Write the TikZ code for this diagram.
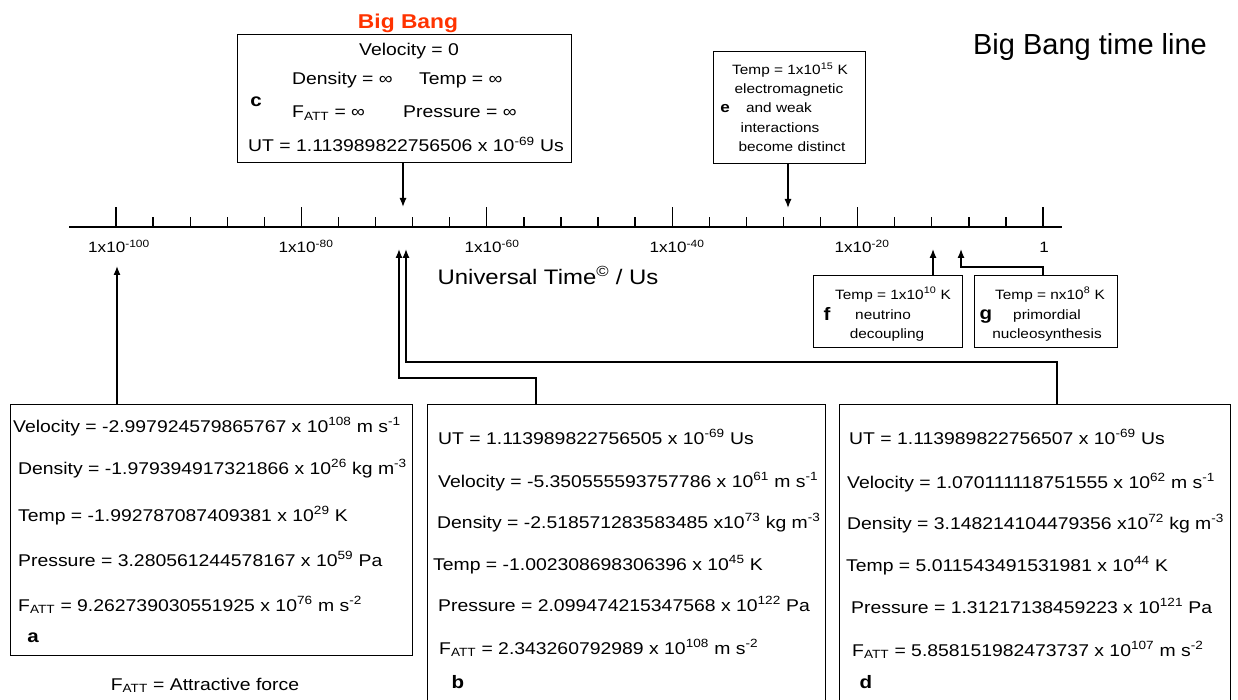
\documentclass[tikz,border=0pt]{standalone}
\usepackage{fontspec}
\setmainfont[FakeStretch=1.14]{Liberation Sans}
\newfontfamily\titlefont{Liberation Sans}
\usetikzlibrary{arrows.meta}
\newcommand\myup[1]{\textsuperscript{#1}}
\newcommand\myatt{F\textsubscript{ATT}}
\definecolor{bbred}{RGB}{255,51,0}
\begin{document}
\begin{tikzpicture}[x=1pt,y=-1pt,
  box/.style={draw, line width=1.3pt, inner sep=0pt, anchor=north west},
  arr/.style={line width=1.3pt, -{Latex[length=9pt,width=7pt]}},
  ln/.style={line width=1.3pt},
  t/.style={anchor=base west, inner sep=0pt, font=\fontsize{17}{20}\selectfont},
  tc/.style={anchor=base, inner sep=0pt, font=\fontsize{17}{20}\selectfont},
  sm/.style={anchor=base, inner sep=0pt, font=\fontsize{13.5}{15}\selectfont},
  lbl/.style={anchor=base, inner sep=0pt, font=\bfseries\fontsize{18}{20}\selectfont},
  tl/.style={anchor=base, inner sep=0pt, font=\fontsize{15}{17}\selectfont}]
\clip (0,0) rectangle (1238,700);
\fill[white] (0,0) rectangle (1238,700);

% title and big bang
\node[anchor=base, inner sep=0pt, font=\titlefont\fontsize{29}{31}\selectfont] (title) at (1090,55) {Big Bang time line};
\node[anchor=base, inner sep=0pt, text=bbred, font=\bfseries\fontsize{20}{22}\selectfont] (bb) at (408,29) {Big Bang};

% axis
\coordinate (axL) at (69,227);
\coordinate (axR) at (1062,227);
\draw[ln] (axL) -- (axR);
\foreach \k in {0,...,25} {
  \pgfmathsetmacro\xx{116+37.08*\k}
  \pgfmathtruncatemacro\mm{mod(\k,5)}
  \ifnum\mm=0
    \draw[ln] (\xx,227) -- (\xx,207);
  \else
    \draw[ln] (\xx,227) -- (\xx,217);
  \fi
}
\node[tl] (l100) at (119,253) {1x10\myup{-100}};
\node[tl] (l80) at (306,253) {1x10\myup{-80}};
\node[tl] (l60) at (492,253) {1x10\myup{-60}};
\node[tl] (l40) at (677,253) {1x10\myup{-40}};
\node[tl] (l20) at (862,253) {1x10\myup{-20}};
\node[tl] (l0) at (1044,253) {1};
\node[anchor=base, inner sep=0pt, font=\fontsize{21}{24}\selectfont] (ut) at (548,284) {Universal Time\myup{\textcopyright} / Us};

% box c
\node[box, minimum width=334pt, minimum height=128pt] (boxC) at (237,34) {};
\node[tc] (cV) at (409,56) {Velocity = 0};
\node[t] (cD) at (292,85) {Density = ∞};
\node[t] (cT) at (419,85) {Temp = ∞};
\node[lbl] (cL) at (256,107) {c};
\node[t] (cF) at (292,118) {\myatt{} = ∞};
\node[t] (cP) at (403,118) {Pressure = ∞};
\node[t] (cU) at (248,152) {UT = 1.113989822756506 x 10\myup{-69} Us};

% box e
\node[box, minimum width=152pt, minimum height=112pt] (boxE) at (713,51) {};
\node[sm] (e1) at (790,75) {Temp = 1x10\myup{15} K};
\node[sm] (e2) at (789,94) {electromagnetic};
\node[sm] (e3) at (779,113) {and weak};
\node[lbl, font=\bfseries\fontsize{15}{16}\selectfont] (eL) at (725,113) {e};
\node[sm] (e4) at (780,133) {interactions};
\node[sm] (e5) at (792,152) {become distinct};

% box f
\node[box, minimum width=149pt, minimum height=72pt] (boxF) at (813,275) {};
\node[sm] (f1) at (893,299) {Temp = 1x10\myup{10} K};
\node[lbl] (fL) at (827,320) {f};
\node[sm] (f2) at (883,319) {neutrino};
\node[sm] (f3) at (887,338) {decoupling};

% box g
\node[box, minimum width=143pt, minimum height=72pt] (boxG) at (974,275) {};
\node[sm] (g1) at (1050,299) {Temp = nx10\myup{8} K};
\node[lbl] (gL) at (986,319) {g};
\node[sm] (g2) at (1047,319) {primordial};
\node[sm] (g3) at (1047,338) {nucleosynthesis};

% box a
\node[box, minimum width=402pt, minimum height=251pt] (boxA) at (10,404) {};
\node[t] (aV) at (13,432) {Velocity = -2.997924579865767 x 10\myup{108} m s\myup{-1}};
\node[t] (aD) at (18,474) {Density = -1.979394917321866 x 10\myup{26} kg m\myup{-3}};
\node[t] (aT) at (18,521) {Temp = -1.992787087409381 x 10\myup{29} K};
\node[t] (aP) at (18,566) {Pressure = 3.280561244578167 x 10\myup{59} Pa};
\node[t] (aF) at (18,611) {\myatt{} = 9.262739030551925 x 10\myup{76} m s\myup{-2}};
\node[lbl] (aL) at (33,642) {a};
\node[tc] (leg) at (205,690) {\myatt{} = Attractive force};

% box b
\node[box, minimum width=398pt, minimum height=310pt] (boxB) at (427,404) {};
\node[t] (bU) at (438,444) {UT = 1.113989822756505 x 10\myup{-69} Us};
\node[t] (bV) at (438,487) {Velocity = -5.350555593757786 x 10\myup{61} m s\myup{-1}};
\node[t] (bD) at (437,528) {Density = -2.518571283583485 x10\myup{73} kg m\myup{-3}};
\node[t] (bT) at (433,570) {Temp = -1.002308698306396 x 10\myup{45} K};
\node[t] (bP) at (438,611) {Pressure = 2.099474215347568 x 10\myup{122} Pa};
\node[t] (bF) at (439,654) {\myatt{} = 2.343260792989 x 10\myup{108} m s\myup{-2}};
\node[lbl] (bL) at (458,688) {b};

% box d
\node[box, minimum width=391pt, minimum height=310pt] (boxD) at (839,404) {};
\node[t] (dU) at (849,444) {UT = 1.113989822756507 x 10\myup{-69} Us};
\node[t] (dV) at (847,488) {Velocity = 1.070111118751555 x 10\myup{62} m s\myup{-1}};
\node[t] (dD) at (847,529) {Density = 3.148214104479356 x10\myup{72} kg m\myup{-3}};
\node[t] (dT) at (846,571) {Temp = 5.011543491531981 x 10\myup{44} K};
\node[t] (dP) at (851,613) {Pressure = 1.31217138459223 x 10\myup{121} Pa};
\node[t] (dF) at (852,656) {\myatt{} = 5.858151982473737 x 10\myup{107} m s\myup{-2}};
\node[lbl] (dL) at (866,688) {d};

% connectors
\coordinate (tipA) at (117,266);
\coordinate (tipB) at (399,249);
\coordinate (tipD) at (406,249);
\coordinate (tipC) at (403,207);
\coordinate (tipE) at (788,208);
\coordinate (tipF) at (933,249);
\coordinate (tipG) at (961,249);
\coordinate (bendB) at (399,378);
\coordinate (bendD) at (406,362);
\coordinate (bendG) at (961,267);
\draw[arr] (boxA.north -| tipA) -- (tipA);
\draw[arr] ([xshift=109pt]boxB.north west) |- (bendB) -- (tipB);
\draw[arr] ([xshift=218pt]boxD.north west) |- (bendD) -- (tipD);
\draw[arr] (boxC.south -| tipC) -- (tipC);
\draw[arr] (boxE.south -| tipE) -- (tipE);
\draw[arr] ([xshift=120pt]boxF.north west) -- (tipF);
\draw[arr] ([xshift=69pt]boxG.north west) |- (bendG) -- (tipG);
\end{tikzpicture}
\end{document}
